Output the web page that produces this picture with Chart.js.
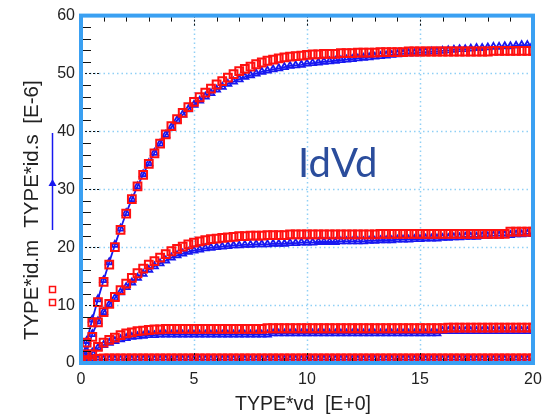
<!DOCTYPE html>
<html>
<head>
<meta charset="utf-8">
<script src="https://cdn.jsdelivr.net/npm/chart.js@4/dist/chart.umd.min.js"></script>
<style>
html,body{margin:0;padding:0;background:#fff;}
#wrap{width:552px;height:418px;}
</style>
</head>
<body>
<div id="wrap"><canvas id="c" width="552" height="418"></canvas></div>
<script>
// Drain voltage samples (V)
const vd = [0,0.25,0.5,0.75,1,1.25,1.5,1.75,2,2.25,2.5,2.75,3,3.25,3.5,3.75,4,4.25,4.5,4.75,
  5,5.25,5.5,5.75,6,6.25,6.5,6.75,7,7.25,7.5,7.75,8,8.25,8.5,8.75,9,9.25,9.5,9.75,
  10,10.25,10.5,10.75,11,11.25,11.5,11.75,12,12.25,12.5,12.75,13,13.25,13.5,13.75,14,14.25,14.5,14.75,
  15,15.25,15.5,15.75,16,16.25,16.5,16.75,17,17.25,17.5,17.75,18,18.25,18.5,18.75,19,19.25,19.5,19.75,20];

// Measured (id.m) and simulated (id.s) drain current, E-6
const idm1 = [0,3.5,7,10.5,14,17,20,23,25.8,28.3,30.5,32.5,34.4,36.2,37.9,39.5,40.9,42.1,43.2,44.2,
  45.1,45.9,46.7,47.4,48.1,48.7,49.3,49.9,50.4,50.8,51.2,51.6,51.9,52.2,52.4,52.6,52.8,52.9,53.0,53.1,
  53.2,53.3,53.3,53.4,53.4,53.4,53.5,53.5,53.5,53.6,53.6,53.6,53.6,53.7,53.7,53.7,53.7,53.7,53.8,53.8,
  53.8,53.8,53.8,53.8,53.8,53.8,53.8,53.8,53.8,53.8,53.8,53.8,53.8,53.9,53.9,53.9,53.9,53.9,53.9,53.9,53.9];
const ids1 = [0,3.8,7.5,11,14.3,17.4,20.4,23.2,25.9,28.3,30.5,32.6,34.5,36.3,37.9,39.4,40.7,41.9,42.9,43.8,
  44.6,45.3,46,46.6,47.2,47.7,48.2,48.6,49,49.4,49.7,50,50.3,50.5,50.7,50.9,51.1,51.3,51.4,51.5,
  51.7,51.8,51.9,52,52.1,52.2,52.3,52.4,52.5,52.6,52.7,52.8,52.9,53,53.1,53.2,53.3,53.4,53.5,53.5,
  53.6,53.7,53.8,53.8,53.9,54,54.1,54.2,54.2,54.3,54.4,54.4,54.5,54.6,54.6,54.7,54.7,54.8,54.9,54.9,55.0];

const idm2 = [0,1.5,4.5,7,8.8,10.2,11.4,12.6,13.7,14.7,15.5,16.3,17,17.6,18.2,18.8,19.3,19.7,20.1,20.5,
  20.8,21,21.2,21.4,21.5,21.6,21.7,21.8,21.9,21.9,22,22,22,22.1,22.1,22.1,22.1,22.2,22.2,22.2,
  22.2,22.2,22.2,22.2,22.2,22.2,22.2,22.2,22.2,22.2,22.2,22.2,22.2,22.3,22.3,22.3,22.3,22.3,22.3,22.3,
  22.3,22.3,22.3,22.3,22.3,22.3,22.3,22.3,22.3,22.3,22.3,22.3,22.3,22.3,22.3,22.3,22.7,22.7,22.7,22.7,22.7];
const ids2 = [0,2,5,7.2,8.8,10.1,11.2,12.2,13.1,13.9,14.7,15.4,16.1,16.7,17.2,17.7,18.2,18.6,18.9,19.2,
  19.4,19.6,19.8,19.9,20,20.1,20.2,20.3,20.3,20.4,20.4,20.5,20.5,20.5,20.6,20.6,20.6,20.7,20.7,20.8,
  20.8,20.8,20.9,20.9,20.9,20.9,21.0,21.0,21.0,21.0,21.0,21.1,21.1,21.2,21.2,21.2,21.3,21.3,21.3,21.4,
  21.4,21.5,21.5,21.5,21.6,21.6,21.7,21.7,21.8,21.8,21.8,21.9,21.9,22,22,22.1,22.1,22.2,22.2,22.3,22.3];

const idm3 = [0,0.5,1.5,2.8,3.5,4,4.4,4.8,5.1,5.3,5.5,5.6,5.7,5.8,5.8,5.9,
  5.9,5.9,5.9,5.9,5.9,5.9,5.9,5.9,5.9,5.9,5.9,5.9,5.9,5.9,5.9,5.9,5.9,
  6.0,6.0,6.0,6.0,6.0,6.0,6.0,6.0,6.0,6.0,6.0,6.0,6.0,6.0,6.0,6.0,6.0,6.0,6.0,6.0,6.0,6.0,6.0,6.0,6.0,6.0,6.0,6.0,6.0,6.0,6.0,6.0,
  6.1,6.1,6.1,6.1,6.1,6.1,6.1,6.1,6.1,6.1,6.1,6.1,6.1,6.1,6.1,6.1];
const ids3 = [0,0.8,1.8,2.6,3.1,3.5,3.8,4.1,4.3,4.5,4.6,4.7,4.8,4.8,4.9,4.9,
  4.9,4.9,4.9,4.9,4.9,4.9,4.9,4.9,4.9,4.9,4.9,4.9,4.9,4.9,4.9,4.9,4.9,4.9,
  5.1,5.1,5.1,5.1,5.1,5.1,5.1,5.1,5.1,5.1,5.1,5.1,5.1,5.1,5.1,5.1,5.1,5.1,5.1,5.1,5.1,5.1,5.1,5.1,5.1,5.1,5.1,5.1,5.1,5.1,
  5.5,5.5,5.5,5.5,5.5,5.5,5.5,5.5,5.5,5.5,5.5,5.5,5.5,5.5,5.5,5.5,5.5];

const idm4 = [0,0.4,0.6,0.7,0.8,0.8,0.8,0.8,0.8,0.8,0.8,0.8,0.8,0.8,0.8,0.8,0.8,0.8,0.8,0.8,
  0.8,0.8,0.8,0.8,0.8,0.8,0.8,0.8,0.8,0.8,0.8,0.8,0.8,0.8,0.8,0.8,0.8,0.8,0.8,0.8,
  0.8,0.8,0.8,0.8,0.8,0.8,0.8,0.8,0.8,0.8,0.8,0.8,0.8,0.8,0.8,0.8,0.8,0.8,0.8,0.8,
  0.8,0.8,0.8,0.8,0.8,0.8,0.8,0.8,0.8,0.8,0.8,0.8,0.8,0.8,0.8,0.8,0.8,0.8,0.8,0.8,0.8];
const ids4 = [0,0.3,0.5,0.6,0.6,0.6,0.6,0.6,0.6,0.6,0.6,0.6,0.6,0.6,0.6,0.6,0.6,0.6,0.6,0.6,
  0.6,0.6,0.6,0.6,0.6,0.6,0.6,0.6,0.6,0.6,0.6,0.6,0.6,0.6,0.6,0.6,0.6,0.6,0.6,0.6,
  0.6,0.6,0.6,0.6,0.6,0.6,0.6,0.6,0.6,0.6,0.6,0.6,0.6,0.6,0.6,0.6,0.6,0.6,0.6,0.6,
  0.6,0.6,0.6,0.6,0.6,0.6,0.6,0.6,0.6,0.6,0.6,0.6,0.6,0.6,0.6,0.6,0.6,0.6,0.6,0.6,0.6];

const xTicks = [0,5,10,15,20];
const yTicks = [0,10,20,30,40,50,60];

const RED = '#ff1010';
const BLUE = '#1818f0';
const pts = arr => arr.map((v,i)=>({x:vd[i], y:v}));

const measured = [idm1,idm2,idm3,idm4].map(a=>({
  data: pts(a), showLine:false, pointStyle:'rect', pointRadius:5.5,
  borderColor:RED, pointBorderColor:RED, pointBackgroundColor:'rgba(0,0,0,0)', pointBorderWidth:2
}));
const simulated = [ids1,ids2,ids3,ids4].map(a=>({
  data: pts(a), showLine:true, borderColor:BLUE, borderWidth:1.8, pointStyle:'triangle', pointRadius:4,
  pointBorderColor:BLUE, pointBackgroundColor:'rgba(0,0,0,0)', pointBorderWidth:1.8, fill:false
}));

const deco = {
  id:'deco',
  beforeDatasetsDraw(chart){
    const {ctx, chartArea:a, scales:{x,y}} = chart;
    ctx.save();
    ctx.strokeStyle = '#8fd0f5';
    ctx.lineWidth = 1.5;
    ctx.setLineDash([1.5,3]);
    [10,20,30,40,50].forEach(v=>{
      const py = Math.round(y.getPixelForValue(v))+0.5;
      ctx.beginPath(); ctx.moveTo(a.left, py); ctx.lineTo(a.right, py); ctx.stroke();
    });
    [5,10,15].forEach(v=>{
      const px = Math.round(x.getPixelForValue(v))+0.5;
      ctx.beginPath(); ctx.moveTo(px, a.top); ctx.lineTo(px, a.bottom); ctx.stroke();
    });
    ctx.restore();
  },
  afterDatasetsDraw(chart){
    const {ctx, chartArea:a, scales:{x,y}} = chart;
    ctx.save();
    ctx.strokeStyle = '#111';
    ctx.lineWidth = 1;
    for(let v=2; v<60; v+=2){
      if(v%10===0) continue;
      const py = Math.round(y.getPixelForValue(v))+0.5;
      ctx.beginPath(); ctx.moveTo(a.left, py); ctx.lineTo(a.left+10, py); ctx.stroke();
    }
    for(let v=1; v<20; v++){
      if(v%5===0) continue;
      const px = Math.round(x.getPixelForValue(v))+0.5;
      ctx.beginPath(); ctx.moveTo(px, a.top); ctx.lineTo(px, a.top+6); ctx.stroke();
      ctx.beginPath(); ctx.moveTo(px, a.bottom); ctx.lineTo(px, a.bottom-5); ctx.stroke();
    }
    ctx.setLineDash([2,2]);
    [10,20,30,40,50].forEach(v=>{
      const py = Math.round(y.getPixelForValue(v))+0.5;
      ctx.beginPath(); ctx.moveTo(a.left, py); ctx.lineTo(a.left+19, py); ctx.stroke();
    });
    [5,10,15].forEach(v=>{
      const px = Math.round(x.getPixelForValue(v))+0.5;
      ctx.beginPath(); ctx.moveTo(px, a.top); ctx.lineTo(px, a.top+10); ctx.stroke();
      ctx.beginPath(); ctx.moveTo(px, a.bottom); ctx.lineTo(px, a.bottom-10); ctx.stroke();
    });
    ctx.setLineDash([]);
    ctx.strokeStyle = '#3aa0f2';
    ctx.lineWidth = 4;
    ctx.strokeRect(a.left, a.top, a.right-a.left, a.bottom-a.top);
    ctx.restore();
  },
  afterDraw(chart){
    const {ctx} = chart;
    ctx.save();
    ctx.fillStyle = '#222';
    ctx.font = '19.5px "Liberation Sans", Arial, sans-serif';
    ctx.textAlign = 'center';
    ctx.textBaseline = 'middle';
    ctx.fillText('TYPE*vd  [E+0]', 303, 405);
    ctx.font = '20.5px "Liberation Sans", Arial, sans-serif';
    const vtxt = (t, cy) => {
      ctx.save(); ctx.translate(32, cy); ctx.rotate(-Math.PI/2); ctx.fillText(t, 0, 0); ctx.restore();
    };
    vtxt('TYPE*id.m', 290);
    vtxt('TYPE*id.s', 181);
    vtxt('[E-6]', 102);
    ctx.strokeStyle = BLUE; ctx.lineWidth = 1.5;
    ctx.beginPath(); ctx.moveTo(52.5, 133); ctx.lineTo(52.5, 230); ctx.stroke();
    ctx.fillStyle = BLUE;
    ctx.beginPath(); ctx.moveTo(52.5, 179); ctx.lineTo(56.5, 186); ctx.lineTo(48.5, 186); ctx.closePath(); ctx.fill();
    ctx.strokeStyle = RED; ctx.lineWidth = 1.5;
    ctx.strokeRect(49.5, 286.5, 6, 6);
    ctx.strokeRect(49.5, 299.5, 6, 6);
    ctx.fillStyle = '#2b4d9c';
    ctx.font = '40px Lato, "Open Sans", sans-serif';
    ctx.textAlign = 'left';
    ctx.textBaseline = 'alphabetic';
    ctx.fillText('IdVd', 298, 177);
    ctx.restore();
  }
};

new Chart(document.getElementById('c'), {
  type: 'scatter',
  data: { datasets: [...measured, ...simulated] },
  options: {
    responsive:false, animation:false, devicePixelRatio:1,
    layout:{padding:{top:14, right:19, left:0, bottom:0}},
    plugins:{legend:{display:false}, tooltip:{enabled:false}, title:{display:false}},
    scales:{
      x:{type:'linear', min:0, max:20,
        afterBuildTicks: s => { s.ticks = xTicks.map(v=>({value:v})); },
        afterFit: s => { s.height = 55; },
        grid:{display:false, drawTicks:false}, border:{display:false},
        ticks:{padding:7, color:'#222', font:{family:'"Liberation Sans", Arial, sans-serif', size:16}}
      },
      y:{type:'linear', min:0, max:60,
        afterBuildTicks: s => { s.ticks = yTicks.map(v=>({value:v})); },
        afterFit: s => { s.width = 81; },
        grid:{display:false, drawTicks:false}, border:{display:false},
        ticks:{padding:6, color:'#222', font:{family:'"Liberation Sans", Arial, sans-serif', size:16}}
      }
    }
  },
  plugins:[deco]
});
</script>
</body>
</html>
